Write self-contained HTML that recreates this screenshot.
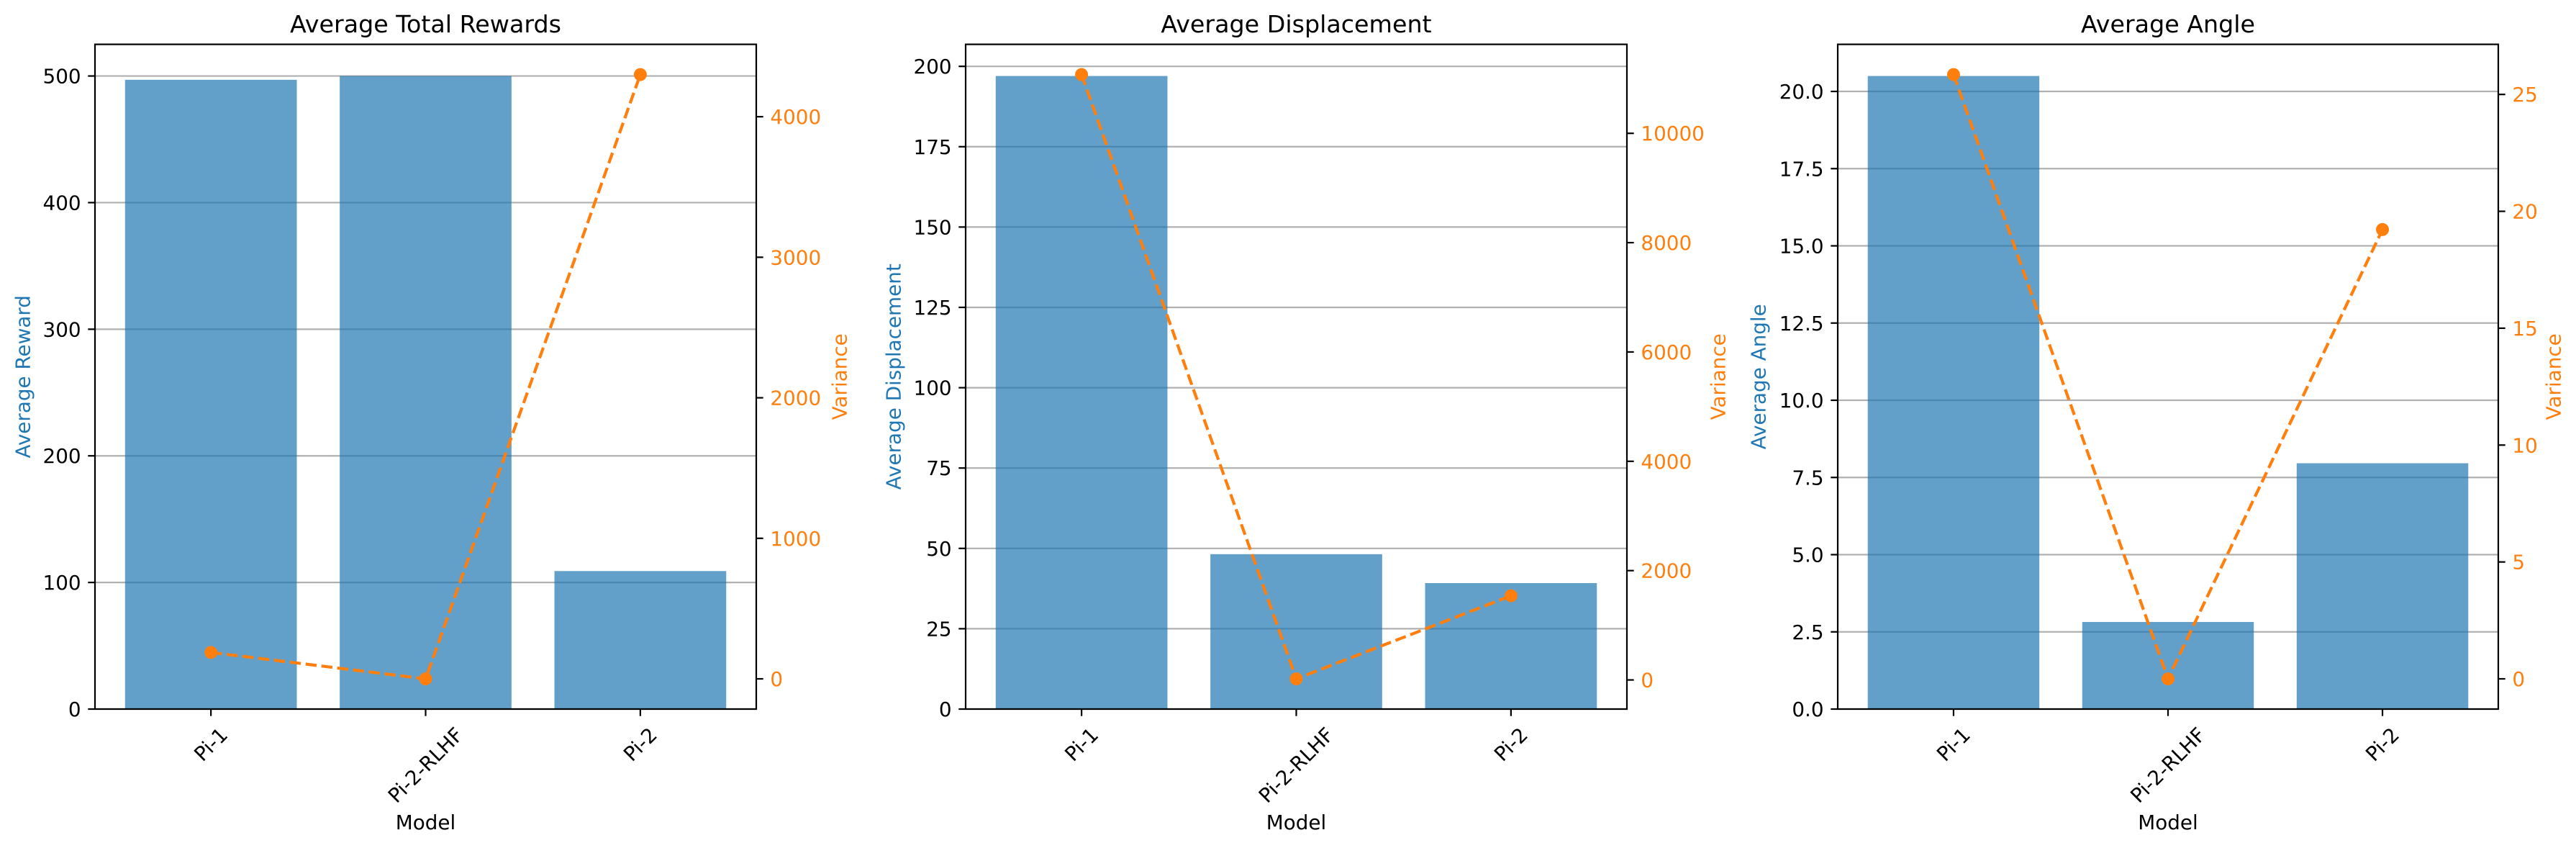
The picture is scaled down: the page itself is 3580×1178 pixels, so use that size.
<!DOCTYPE html>
<html><head><meta charset="utf-8"><style>
html,body{margin:0;padding:0;background:#fff;}
svg{display:block;font-family:"DejaVu Sans","Liberation Sans",sans-serif;}
</style></head><body>
<svg id="fig" width="3580" height="1178" viewBox="0 0 3580 1178" xmlns="http://www.w3.org/2000/svg"></svg>
<script>
const categories = ["Pi-1", "Pi-2-RLHF", "Pi-2"];
const rewardValues = [497, 500, 109];
const rewardVariance = [188, 0, 4300];
const dispValues = [197, 48.2, 39.2];
const dispVariance = [11075, 20, 1540];
const angleValues = [20.5, 2.82, 7.96];
const angleVariance = [25.85, 0, 19.22];
const rewardTicks = [0, 100, 200, 300, 400, 500];
const rewardVarTicks = [0, 1000, 2000, 3000, 4000];
const dispTicks = [0, 25, 50, 75, 100, 125, 150, 175, 200];
const dispVarTicks = [0, 2000, 4000, 6000, 8000, 10000];
const angleTicks = [0, 2.5, 5, 7.5, 10, 12.5, 15, 17.5, 20];
const angleVarTicks = [0, 5, 10, 15, 20, 25];

const NS = "http://www.w3.org/2000/svg";
const svg = document.getElementById("fig");
function mk(tag, attrs, parent) {
  const e = document.createElementNS(NS, tag);
  for (const k in attrs) e.setAttribute(k, attrs[k]);
  (parent || svg).appendChild(e);
  return e;
}
const FS = 27.8, TOP = 61.6, BOT = 985;
const BLUE = "#1f77b4", ORANGE = "#ff7f0e";

const panels = [
  {key:"rewards", title:"Average Total Rewards", ylabel:"Average Reward", left:132, right:1051,
   vals:rewardValues, vars:rewardVariance, ticks:rewardTicks, vticks:rewardVarTicks, dec:0, ylabX:32, vlabX:1167},
  {key:"displacement", title:"Average Displacement", ylabel:"Average Displacement", left:1342, right:2261,
   vals:dispValues, vars:dispVariance, ticks:dispTicks, vticks:dispVarTicks, dec:0, ylabX:1242, vlabX:2388},
  {key:"angle", title:"Average Angle", ylabel:"Average Angle", left:2554, right:3472,
   vals:angleValues, vars:angleVariance, ticks:angleTicks, vticks:angleVarTicks, dec:1, ylabX:2444, vlabX:3549}
];

panels.forEach(p => {
  const g = mk("g", {});
  
  
  const n = categories.length;
  const xmin = -0.4 - 0.05 * (n - 1 + 0.8), xmax = n - 1 + 0.4 + 0.05 * (n - 1 + 0.8);
  const xs = v => p.left + (v - xmin) / (xmax - xmin) * (p.right - p.left);
  const ymax = Math.max(...p.vals) * 1.05;
  const ys = v => BOT - v / ymax * (BOT - TOP);
  const vmax = Math.max(...p.vars), vmin = Math.min(...p.vars);
  const vr = vmax - vmin;
  const v0 = vmin - 0.05 * vr, v1 = vmax + 0.05 * vr;
  const vs = v => BOT - (v - v0) / (v1 - v0) * (BOT - TOP);

  p.ticks.forEach(t => {
    const l = mk("line", {x1:p.left, x2:p.right, y1:ys(t), y2:ys(t), stroke:"#b0b0b0", "stroke-width":2.2}, g);
    
    
  });
  p.vals.forEach((v, i) => {
    const x0 = xs(i - 0.4), x1 = xs(i + 0.4);
    const r = mk("rect", {x:x0, y:ys(v), width:x1 - x0, height:BOT - ys(v), fill:BLUE, "fill-opacity":0.7}, g);
    
    
  });
  const pts = p.vars.map((v, i) => xs(i) + "," + vs(v)).join(" ");
  const pl = mk("polyline", {points:pts, fill:"none", stroke:ORANGE, "stroke-width":4.2, "stroke-dasharray":"15.4 6.7"}, g);
  
  
  p.vars.forEach((v, i) => {
    const c = mk("circle", {cx:xs(i), cy:vs(v), r:9, fill:ORANGE}, g);
    
    
  });
  const fr = mk("rect", {x:p.left, y:TOP, width:p.right - p.left, height:BOT - TOP, fill:"none", stroke:"#000", "stroke-width":2.2}, g);
  
  
  p.ticks.forEach(t => {
    mk("line", {x1:p.left - 9.7, x2:p.left, y1:ys(t), y2:ys(t), stroke:"#000", "stroke-width":2.2}, g);
    const tx = mk("text", {x:p.left - 19.4, y:ys(t) + FS * 0.36, "font-size":FS, "text-anchor":"end", fill:"#000"}, g);
    tx.textContent = p.dec ? t.toFixed(p.dec) : String(t);
    
    
  });
  p.vticks.forEach(t => {
    mk("line", {x1:p.right, x2:p.right + 9.7, y1:vs(t), y2:vs(t), stroke:"#000", "stroke-width":2.2}, g);
    const tx = mk("text", {x:p.right + 19.4, y:vs(t) + FS * 0.36, "font-size":FS, fill:ORANGE}, g);
    tx.textContent = String(t);
    
    
  });
  categories.forEach((c, i) => {
    const x = xs(i);
    mk("line", {x1:x, x2:x, y1:BOT, y2:BOT + 9.7, stroke:"#000", "stroke-width":2.2}, g);
    const tx = mk("text", {x:0, y:0, "font-size":FS, "text-anchor":"middle", "dominant-baseline":"central", fill:"#000"}, g);
    tx.textContent = c;
    
    
    const w = tx.getComputedTextLength();
    const h = FS * 1.17;
    const cy = BOT + 19.4 + (w + h) * Math.SQRT1_2 / 2;
    tx.setAttribute("transform", "translate(" + x + "," + cy + ") rotate(-45)");
  });
  const ti = mk("text", {x:(p.left + p.right) / 2, y:TOP - 16.7, "font-size":33.3, "text-anchor":"middle", fill:"#000"}, g);
  ti.textContent = p.title;
  
  
  const xl = mk("text", {x:(p.left + p.right) / 2, y:1152, "font-size":FS, "text-anchor":"middle", fill:"#000"}, g);
  xl.textContent = "Model";
  
  
  const yl = mk("text", {x:0, y:0, "font-size":FS, "text-anchor":"middle", "dominant-baseline":"central", fill:BLUE,
    transform:"translate(" + p.ylabX + "," + (TOP + BOT) / 2 + ") rotate(-90)"}, g);
  yl.textContent = p.ylabel;
  
  
  const vl = mk("text", {x:0, y:0, "font-size":FS, "text-anchor":"middle", "dominant-baseline":"central", fill:ORANGE,
    transform:"translate(" + p.vlabX + "," + (TOP + BOT) / 2 + ") rotate(-90)"}, g);
  vl.textContent = "Variance";
  
  
});
</script>
</body></html>
